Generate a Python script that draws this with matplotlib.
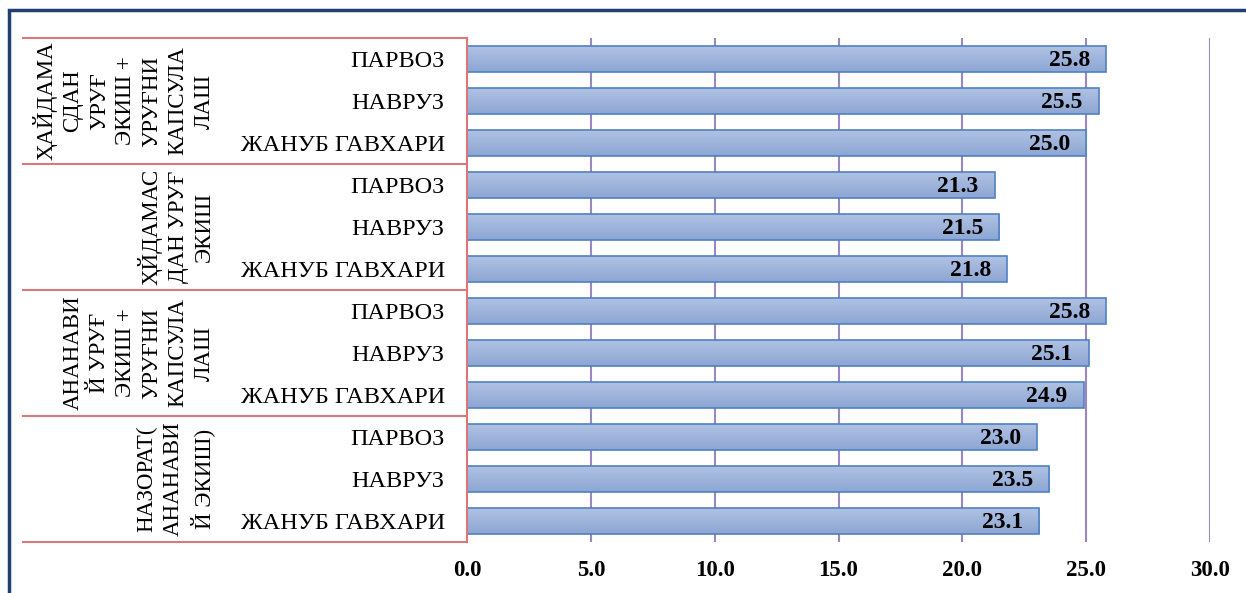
import matplotlib
matplotlib.use("Agg")
import matplotlib.pyplot as plt
import matplotlib.transforms as mtransforms
from matplotlib.patches import Rectangle
from matplotlib.colors import LinearSegmentedColormap
import numpy as np

plt.rcParams['font.family'] = ['Liberation Serif', 'DejaVu Serif']

# data (top to bottom as in the picture)
groups = ["ҲАЙДАМА\nСДАН\nУРУҒ\nЭКИШ +\nУРУҒНИ\nКАПСУЛА\nЛАШ",
          "ҲЙДАМАС\nДАН УРУҒ\nЭКИШ",
          "АНАНАВИ\nЙ УРУҒ\nЭКИШ +\nУРУҒНИ\nКАПСУЛА\nЛАШ",
          "НАЗОРАТ(\nАНАНАВИ\nЙ ЭКИШ)"]
varieties = ["ПАРВОЗ", "НАВРУЗ", "ЖАНУБ ГАВХАРИ"]
values = [[25.8, 25.5, 25.0],
          [21.3, 21.5, 21.8],
          [25.8, 25.1, 24.9],
          [23.0, 23.5, 23.1]]
xticks = [0, 5, 10, 15, 20, 25, 30]

W, H = 1246, 593
fig = plt.figure(figsize=(W / 100, H / 100), dpi=100)
ax = fig.add_axes([467 / W, 1 - 542 / H, (1210 - 467) / W, (542 - 38) / H])

labels = []
vals = []
for g in range(len(groups)):
    for k in range(len(varieties)):
        labels.append(varieties[k])
        vals.append(values[g][k])
ypos = list(range(len(vals)))
bh = 0.6

# gradient fill like the office chart
cmap = LinearSegmentedColormap.from_list("bar", ["#B0C2E3", "#8DA6D3"])
grad = np.linspace(0, 1, 50).reshape(-1, 1)
for y, v in zip(ypos, vals):
    ax.imshow(grad, cmap=cmap, aspect="auto", origin="upper",
              extent=(0, v, y + bh / 2, y - bh / 2), zorder=2.5)
ax.barh(ypos, vals, height=bh, facecolor="none", edgecolor="#4F81C4",
        linewidth=1.2, zorder=3)

for y, v in zip(ypos, vals):
    ax.annotate(f"{v:.1f}", (v, y), xytext=(-11.5, -1), textcoords="offset points",
                ha="right", va="center", fontsize=17, fontweight="bold", zorder=4)

ax.set_xlim(0, 30)
ax.set_ylim(len(vals) - 0.5, -0.5)
ax.set_aspect("auto")
ax.set_xticks(xticks)
ax.set_xticklabels([f"{t:.1f}" for t in xticks], fontsize=16.5, fontweight="bold")
ax.set_yticks(ypos)
ax.set_yticklabels(labels, fontsize=17.5)
ax.tick_params(axis="x", length=0, pad=13)
ax.tick_params(axis="y", length=0, pad=16)
ax.grid(axis="x", color="#9A86C0", linewidth=1.5, zorder=0)
ax.set_axisbelow(True)
for s in ["top", "right", "bottom"]:
    ax.spines[s].set_visible(False)
ax.spines["left"].set_color("#D9777A")
ax.spines["left"].set_linewidth(1.5)
ax.spines["left"].set_zorder(5)

# category table lines and group labels
tr = mtransforms.blended_transform_factory(fig.transFigure, ax.transData)
for b in [-0.5, 2.5, 5.5, 8.5, 11.5]:
    ax.plot([23 / W, 467 / W], [b, b], color="#D9777A", linewidth=1.5,
            transform=tr, clip_on=False)
for g, name in enumerate(groups):
    ax.text(215 / W, g * 3 + 1, name, transform=tr, rotation=90,
            ha="right", va="center", multialignment="center",
            fontsize=16.5, linespacing=1.33)

# outer frame
fig.patches.append(Rectangle((9 / W, -0.1), 1.2, 1 - 10 / H + 0.1,
                             transform=fig.transFigure, fill=False,
                             edgecolor="#22406F", linewidth=2.5))

fig.savefig("out.png", dpi=100)
